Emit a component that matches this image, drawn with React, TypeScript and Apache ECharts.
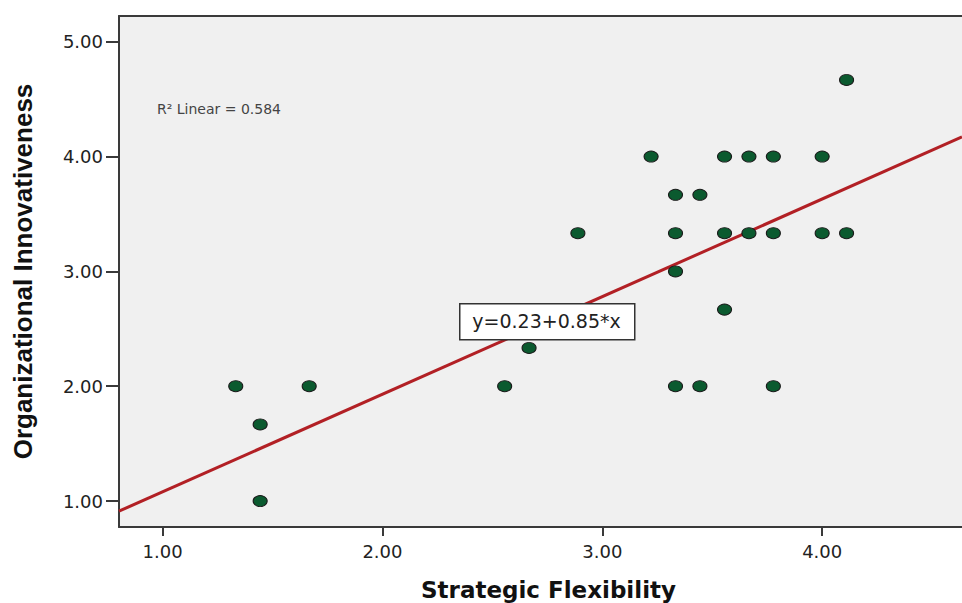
import React, { useEffect, useRef } from "react";
import * as echarts from "echarts";

// Observations: [Strategic Flexibility, Organizational Innovativeness]
const flexibility = [
  1.333, 1.444, 1.444, 1.667, 2.556, 2.667, 2.889, 3.222, 3.333, 3.333, 3.333, 3.333, 3.444,
  3.444, 3.556, 3.556, 3.556, 3.667, 3.667, 3.778, 3.778, 3.778, 4.0, 4.0, 4.111, 4.111,
];
const innovativeness = [
  2.0, 1.667, 1.0, 2.0, 2.0, 2.333, 3.333, 4.0, 3.667, 3.333, 3.0, 2.0, 3.667,
  2.0, 4.0, 3.333, 2.667, 4.0, 3.333, 4.0, 3.333, 2.0, 4.0, 3.333, 4.667, 3.333,
];

const xTicks = [1, 2, 3, 4];
const yTicks = [1, 2, 3, 4, 5];
const xRange = [0.802, 4.636];
const yRange = [0.774, 5.224];

const intercept = 0.23;
const slope = 0.85;
const rSquared = 0.584;

export default function App() {
  const ref = useRef<HTMLDivElement>(null);

  useEffect(() => {
    if (!ref.current) return;
    const chart = echarts.init(ref.current, undefined, { renderer: "svg" });
    const points = flexibility.map((x, i) => [x, innovativeness[i]]);
    const fit = xRange.map((x) => [x, intercept + slope * x]);

    chart.setOption({
      animation: false,
      backgroundColor: "#ffffff",
      grid: {
        left: 119,
        top: 16,
        right: 0,
        bottom: 76,
        containLabel: false,
        outerBoundsMode: "none",
        show: true,
        backgroundColor: "#f0f0f0",
        borderWidth: 0,
      },
      xAxis: [
        {
          type: "value",
          min: xRange[0],
          max: xRange[1],
          name: "Strategic Flexibility",
          nameLocation: "middle",
          nameGap: 51,
          nameTextStyle: {
            fontFamily: "DejaVu Sans",
            fontWeight: "bold",
            fontSize: 23,
            color: "#111",
            padding: [0, 0, 0, 16],
          },
          axisLine: { show: true, onZero: false, lineStyle: { color: "#3a3a3a", width: 2 } },
          axisTick: {
            show: true,
            length: 9,
            customValues: xTicks,
            lineStyle: { color: "#3a3a3a", width: 2 },
          },
          axisLabel: {
            customValues: xTicks,
            formatter: (v: number) => v.toFixed(2),
            fontFamily: "DejaVu Sans",
            fontSize: 18,
            color: "#222",
            margin: 15,
          },
          splitLine: { show: false },
        },
        {
          type: "value",
          position: "top",
          min: xRange[0],
          max: xRange[1],
          axisLine: { show: true, onZero: false, lineStyle: { color: "#3a3a3a", width: 2 } },
          axisTick: { show: false },
          axisLabel: { show: false },
          splitLine: { show: false },
        },
      ],
      yAxis: {
        type: "value",
        min: yRange[0],
        max: yRange[1],
        name: "Organizational Innovativeness",
        nameLocation: "middle",
        nameGap: 83,
        nameTextStyle: {
          fontFamily: "Liberation Sans",
          fontWeight: "bold",
          fontSize: 26,
          color: "#111",
        },
        axisLine: { show: true, onZero: false, lineStyle: { color: "#3a3a3a", width: 2 } },
        axisTick: {
          show: true,
          length: 13,
          customValues: yTicks,
          lineStyle: { color: "#3a3a3a", width: 2 },
        },
        axisLabel: {
          customValues: yTicks,
          formatter: (v: number) => v.toFixed(2),
          fontFamily: "DejaVu Sans",
          fontSize: 18,
          color: "#222",
          margin: 16,
        },
        splitLine: { show: false },
      },
      series: [
        {
          type: "line",
          data: fit,
          symbol: "none",
          lineStyle: { color: "#b22025", width: 3 },
          z: 3,
        },
        {
          type: "scatter",
          data: points,
          symbol: "circle",
          symbolSize: [14, 11],
          itemStyle: { color: "#0b5a2f", borderColor: "#1a1a1a", borderWidth: 1, opacity: 1 },
          z: 4,
        },
      ],
      graphic: [
        {
          type: "text",
          left: 157,
          top: 102,
          z: 10,
          style: {
            text: "R\u00b2 Linear = " + rSquared.toFixed(3),
            font: "14px 'DejaVu Sans'",
            fill: "#444",
          },
        },
        {
          type: "rect",
          left: 459,
          top: 303,
          z: 20,
          shape: { x: 0, y: 0, width: 175, height: 36 },
          style: { fill: "#ffffff", stroke: "#333", lineWidth: 1.5 },
        },
        {
          type: "text",
          x: 546.5,
          y: 321,
          z: 21,
          style: {
            text: `y=${intercept.toFixed(2)}+${slope.toFixed(2)}*x`,
            font: "19px 'DejaVu Sans'",
            fill: "#222",
            align: "center",
            verticalAlign: "middle",
          },
        },
      ],
    });

    return () => chart.dispose();
  }, []);

  return (
    <div
      ref={ref}
      style={{ position: "absolute", left: 0, top: 0, width: 962, height: 603 }}
    />
  );
}
